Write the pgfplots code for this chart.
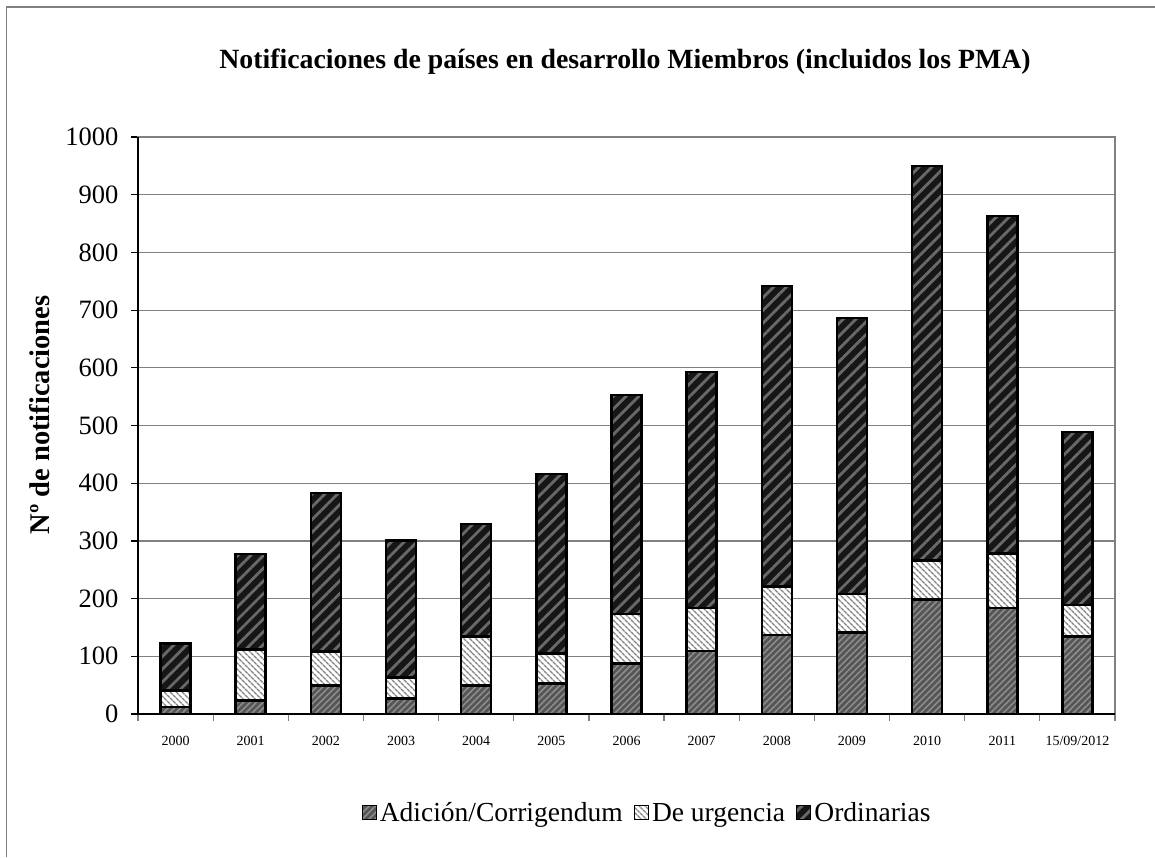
\documentclass[border=0pt]{standalone}
\usepackage{fontspec}
\setmainfont{Liberation Serif}
\usepackage{pgfplots}
\pgfplotsset{compat=1.18}
\usepackage{pgfplotstable}
\usetikzlibrary{patterns.meta}

\pgfplotstableread{
x adic urg ord
0 12 29 81
1 23 89 165
2 49 59 275
3 27 36 238
4 49 85 195
5 53 52 311
6 88 85 380
7 109 75 409
8 137 84 521
9 141 67 478
10 198 68 684
11 184 94 585
12 134 55 300
}\datatable

\definecolor{adicbg}{RGB}{85,85,85}
\definecolor{adicln}{RGB}{140,140,140}
\definecolor{urgln}{RGB}{130,130,130}
\definecolor{ordbg}{RGB}{22,22,22}
\definecolor{ordln}{RGB}{105,105,105}
\definecolor{framegray}{RGB}{128,128,128}

\begin{document}
\begin{tikzpicture}
\useasboundingbox (-138pt,-143pt) rectangle (1017pt,714pt);
\fill[white] (-138pt,-143pt) rectangle (1017pt,714pt);
\draw[framegray, line width=1.5pt] (-131.5pt,-143pt) -- (-131.5pt,707pt) -- (1017pt,707pt);
\begin{axis}[
  at={(0pt,0pt)}, anchor=south west,
  scale only axis, width=977pt, height=577pt,
  ybar stacked, bar width=30pt,
  xmin=-0.5, xmax=12.5, ymin=0, ymax=1000,
  ytick={0,100,...,1000},
  ymajorgrids, grid style={framegray, line width=1.2pt},
  xtick={-0.5,0.5,...,12.5}, xticklabels={},
  extra x ticks={0,1,...,12},
  extra x tick labels={2000,2001,2002,2003,2004,2005,2006,2007,2008,2009,2010,2011,15/09/2012},
  extra x tick style={major tick length=0pt, grid=none,
     xticklabel style={font=\fontsize{14}{16}\selectfont, yshift=-19pt}},
  xtick pos=bottom, ytick pos=left,
  tick align=outside, major tick length=7pt,
  xtick style={framegray, line width=1.2pt},
  ytick style={black, line width=1.2pt},
  axis line style={framegray, line width=1.5pt},
  /pgf/number format/assume math mode=true,
  /pgf/number format/1000 sep={},
  yticklabel style={font=\fontsize{26.5}{30}\selectfont, xshift=-9pt},
  legend style={at={(0.521,-0.175)}, anchor=center, legend columns=3, draw=none,
     font=\fontsize{27.5}{32}\selectfont,
     nodes={text height=0.7em, text depth=0.22em, inner xsep=2pt},
     /tikz/every odd column/.append style={column sep=1pt},
     /tikz/every even column/.append style={column sep=9pt}},
  legend image code/.code={\draw[#1, line width=1.3pt] (0pt,-0.5pt) rectangle (14pt,13.5pt);},
  clip=false,
]
\addplot[draw=black, line width=2.6pt, fill=adicbg,
  postaction={pattern={Lines[angle=45,distance=4.5pt,line width=1.6pt]}, pattern color=adicln}]
  table[x=x, y=adic] {\datatable};
\addlegendentry{Adición/Corrigendum}
\addplot[draw=black, line width=2.6pt, fill=white,
  postaction={pattern={Lines[angle=-45,distance=4pt,line width=1.5pt]}, pattern color=urgln}]
  table[x=x, y=urg] {\datatable};
\addlegendentry{De urgencia}
\addplot[draw=black, line width=2.6pt, fill=ordbg,
  postaction={pattern={Lines[angle=45,distance=9pt,line width=2.8pt]}, pattern color=ordln}]
  table[x=x, y=ord] {\datatable};
\addlegendentry{Ordinarias}
\draw[black, line width=1.5pt] (rel axis cs:0,1) -- (rel axis cs:0,0) -- (rel axis cs:1,0);
\end{axis}
\node[font=\fontsize{27.8}{32}\selectfont\bfseries] at (487pt,652pt) {Notificaciones de países en desarrollo Miembros (incluidos los PMA)};
\node[font=\fontsize{28.5}{32}\selectfont\bfseries, rotate=90] at (-98pt,299pt) {Nº de notificaciones};
\end{tikzpicture}
\end{document}
